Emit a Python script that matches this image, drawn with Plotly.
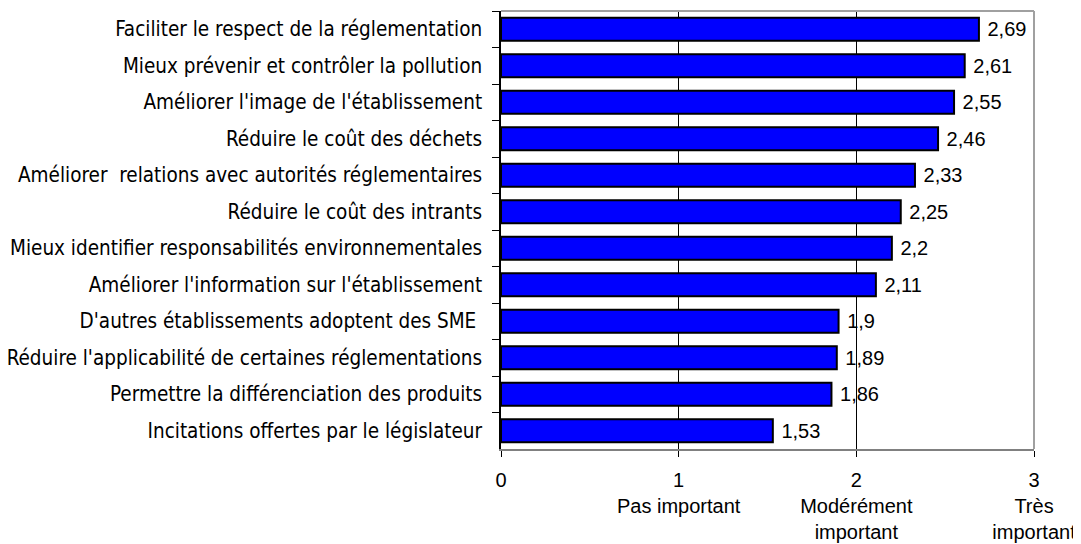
import plotly.graph_objects as go

categories = [
    "Faciliter le respect de la réglementation",
    "Mieux prévenir et contrôler la pollution",
    "Améliorer l'image de l'établissement",
    "Réduire le coût des déchets",
    "Améliorer  relations avec autorités réglementaires",
    "Réduire le coût des intrants",
    "Mieux identifier responsabilités environnementales",
    "Améliorer l'information sur l'établissement",
    "D'autres établissements adoptent des SME ",
    "Réduire l'applicabilité de certaines réglementations",
    "Permettre la différenciation des produits",
    "Incitations offertes par le législateur",
]
values = [2.69, 2.61, 2.55, 2.46, 2.33, 2.25, 2.2, 2.11, 1.9, 1.89, 1.86, 1.53]
tick_vals = [0, 1, 2, 3]
tick_text = ["0", "1<br>Pas important", "2<br>Modérément<br>important", "3<br>Très<br>important"]

labels = ["\u00a0" + str(v).replace(".", ",") for v in values]

fig = go.Figure(go.Bar(
    x=values, y=categories, orientation="h",
    marker=dict(color="#0000FF", line=dict(color="black", width=2)),
    width=0.63,
    text=labels, textposition="outside", cliponaxis=False,
    textfont=dict(family="Liberation Sans, Arial", size=20, color="black"),
))

fig.update_layout(
    width=1073, height=536,
    margin=dict(l=493, r=47, t=3, b=95, autoexpand=False),
    plot_bgcolor="white", paper_bgcolor="white",
    showlegend=False,
    xaxis=dict(
        range=[0, 3], tickvals=tick_vals, ticktext=tick_text,
        showgrid=True, gridcolor="black", gridwidth=1,
        showline=True, linecolor="#808080", linewidth=2,
        ticks="outside", ticklen=6, tickcolor="black",
        tickfont=dict(family="Liberation Sans, Arial", size=20, color="black"),
        ticklabelstandoff=6, ticklabeloverflow="allow",
        zeroline=False, automargin=False,
    ),
    yaxis=dict(
        autorange="reversed",
        showline=True, linecolor="black", linewidth=1.5,
        ticks="outside", ticklen=7, tickcolor="black", tickson="boundaries",
        tickfont=dict(family="DejaVu Sans Condensed", size=20.5, color="black"),
        ticklabelstandoff=13,
        showgrid=False, automargin=False,
    ),
    shapes=[
        dict(type="line", xref="paper", yref="paper", x0=0, x1=1, y0=1, y1=1,
             line=dict(color="#a0a0a0", width=2)),
        dict(type="line", xref="paper", yref="paper", x0=1, x1=1, y0=0, y1=1,
             line=dict(color="#a0a0a0", width=2)),
    ],
)

fig.write_html("out.html")
